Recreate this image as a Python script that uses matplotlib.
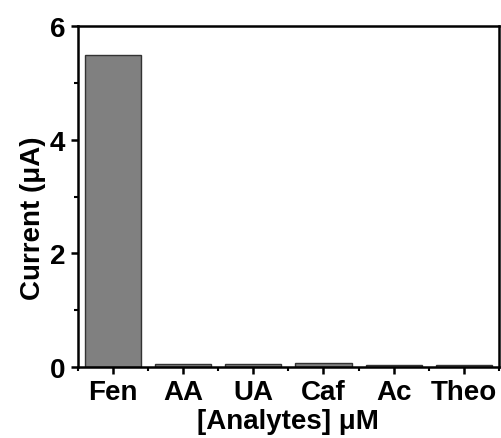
import matplotlib.pyplot as plt
import numpy as np

categories = ['Fen', 'AA', 'UA', 'Caf', 'Ac', 'Theo']
current = [5.5, 0.05, 0.05, 0.07, 0.03, 0.03]
y_ticks = [0, 2, 4, 6]

plt.rcParams['font.family'] = ['Liberation Sans', 'DejaVu Sans']
plt.rcParams['font.weight'] = 'bold'

fig = plt.figure(figsize=(5.02, 4.39), dpi=100)
ax = fig.add_axes([0.155, 0.162, 0.839, 0.776])

x = np.arange(len(categories))
ax.bar(x, current, width=0.8, color='#808080', edgecolor='#333333', linewidth=1.0)

ax.set_xlim(-0.5, len(categories) - 0.5)
ax.set_ylim(0, 6)
ax.set_xticks(x)
ax.set_xticklabels(categories, fontsize=20, fontweight='bold')
ax.set_xticks(np.arange(len(categories) + 1) - 0.5, minor=True)
ax.set_yticks(y_ticks)
ax.set_yticklabels([str(t) for t in y_ticks], fontsize=20, fontweight='bold')
ax.set_yticks([1, 3, 5], minor=True)

ax.tick_params(which='major', direction='out', length=5, width=1.8, pad=4)
ax.tick_params(which='minor', direction='out', length=3, width=1.5)
for s in ax.spines.values():
    s.set_linewidth(1.8)

ax.set_ylabel('Current (\u03bcA)', fontsize=20, fontweight='bold')
ax.yaxis.set_label_coords(-0.075, 0.44)
ax.set_xlabel('[Analytes] \u03bcM', fontsize=20, fontweight='bold', labelpad=2)

fig.savefig('out.png', dpi=100)
